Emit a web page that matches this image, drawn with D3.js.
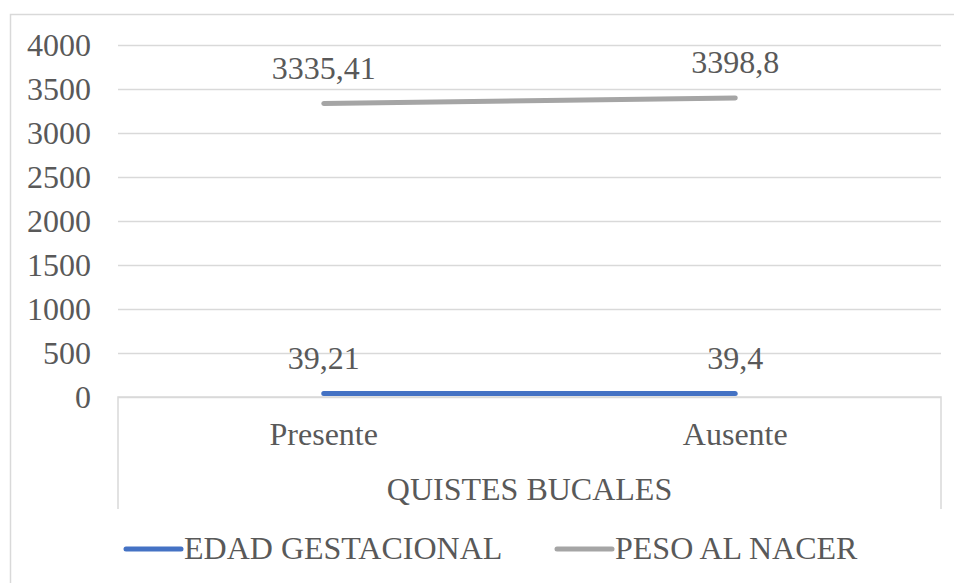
<!DOCTYPE html>
<html>
<head>
<meta charset="utf-8">
<script src="https://cdn.jsdelivr.net/npm/d3@7"></script>
<style>
  body { margin: 0; background: #fff; }
</style>
</head>
<body>
<script>
// valores del grafico
const categories = ["Presente", "Ausente"];
const groupLabel = "QUISTES BUCALES";
const edadGestacional = [39.21, 39.4];
const pesoAlNacer = [3335.41, 3398.8];
const yTicks = [0, 500, 1000, 1500, 2000, 2500, 3000, 3500, 4000];
const seriesNames = ["EDAD GESTACIONAL", "PESO AL NACER"];
const seriesColors = ["#4472C4", "#A5A5A5"];

const W = 954, H = 583;
const plot = {left: 118, right: 941, top: 45, bottom: 397};
const fontSize = 32;
const serif = "'Liberation Serif', 'Times New Roman', Tinos, 'DejaVu Serif', serif";

let svg = d3.select("body").append("svg")
    .attr("width", W)
    .attr("height", H)
    .attr("font-family", serif);

// marco exterior
svg.append("rect")
    .attr("x", 10.5)
    .attr("y", 14.5)
    .attr("width", 980)
    .attr("height", 620)
    .attr("fill", "none")
    .attr("stroke", "#d9d9d9")
    .attr("stroke-width", 1.5);

let x = d3.scalePoint()
    .domain(categories)
    .range([plot.left, plot.right])
    .padding(0.5);

let y = d3.scaleLinear()
    .domain([0, 4000])
    .range([plot.bottom, plot.top]);

// eje y con lineas de cuadricula
let yAxis = svg.append("g")
    .attr("transform", "translate(" + plot.left + ",0)")
    .call(d3.axisLeft(y).tickValues(yTicks).tickFormat(d3.format("d"))
        .tickSize(-(plot.right - plot.left)).tickPadding(27));
yAxis.attr("font-family", serif).attr("font-size", fontSize);
yAxis.select(".domain").remove();
yAxis.selectAll(".tick line")
    .attr("stroke", "#d9d9d9")
    .attr("stroke-width", 1.5);
yAxis.selectAll(".tick text")
    .attr("fill", "#595959")
    .attr("dy", "0.33em");

// caja del eje de categorias
let catBottom = 509;
svg.append("path")
    .attr("d", "M" + plot.left + "," + catBottom + "V" + plot.bottom + "H" + plot.right + "V" + catBottom)
    .attr("fill", "none")
    .attr("stroke", "#d9d9d9")
    .attr("stroke-width", 1.5);

svg.selectAll(".cat")
    .data(categories)
    .enter().append("text")
    .attr("class", "cat")
    .attr("x", d => x(d))
    .attr("y", 445)
    .attr("text-anchor", "middle")
    .attr("font-size", fontSize)
    .attr("fill", "#595959")
    .text(d => d);

svg.append("text")
    .attr("x", (plot.left + plot.right) / 2)
    .attr("y", 500)
    .attr("text-anchor", "middle")
    .attr("font-size", fontSize)
    .attr("fill", "#595959")
    .text(groupLabel);

// lineas
let series = [edadGestacional, pesoAlNacer];
let line = d3.line()
    .x((d, i) => x(categories[i]))
    .y(d => y(d));

series.forEach((s, k) => {
    svg.append("path")
        .datum(s)
        .attr("d", line)
        .attr("fill", "none")
        .attr("stroke", seriesColors[k])
        .attr("stroke-width", 5)
        .attr("stroke-linecap", "round");

    svg.selectAll(".lbl" + k)
        .data(s)
        .enter().append("text")
        .attr("x", (d, i) => x(categories[i]))
        .attr("y", d => y(d) - 24.5)
        .attr("text-anchor", "middle")
        .attr("font-size", fontSize)
        .attr("fill", "#595959")
        .text(d => String(d).replace(".", ","));
});

// leyenda
let legendX = [126, 557];
seriesNames.forEach((name, k) => {
    svg.append("line")
        .attr("x1", legendX[k])
        .attr("x2", legendX[k] + 55)
        .attr("y1", 549)
        .attr("y2", 549)
        .attr("stroke", seriesColors[k])
        .attr("stroke-width", 5)
        .attr("stroke-linecap", "round");
    svg.append("text")
        .attr("x", legendX[k] + 58)
        .attr("y", 559)
        .attr("font-size", fontSize)
        .attr("fill", "#595959")
        .text(name);
});
</script>
</body>
</html>
